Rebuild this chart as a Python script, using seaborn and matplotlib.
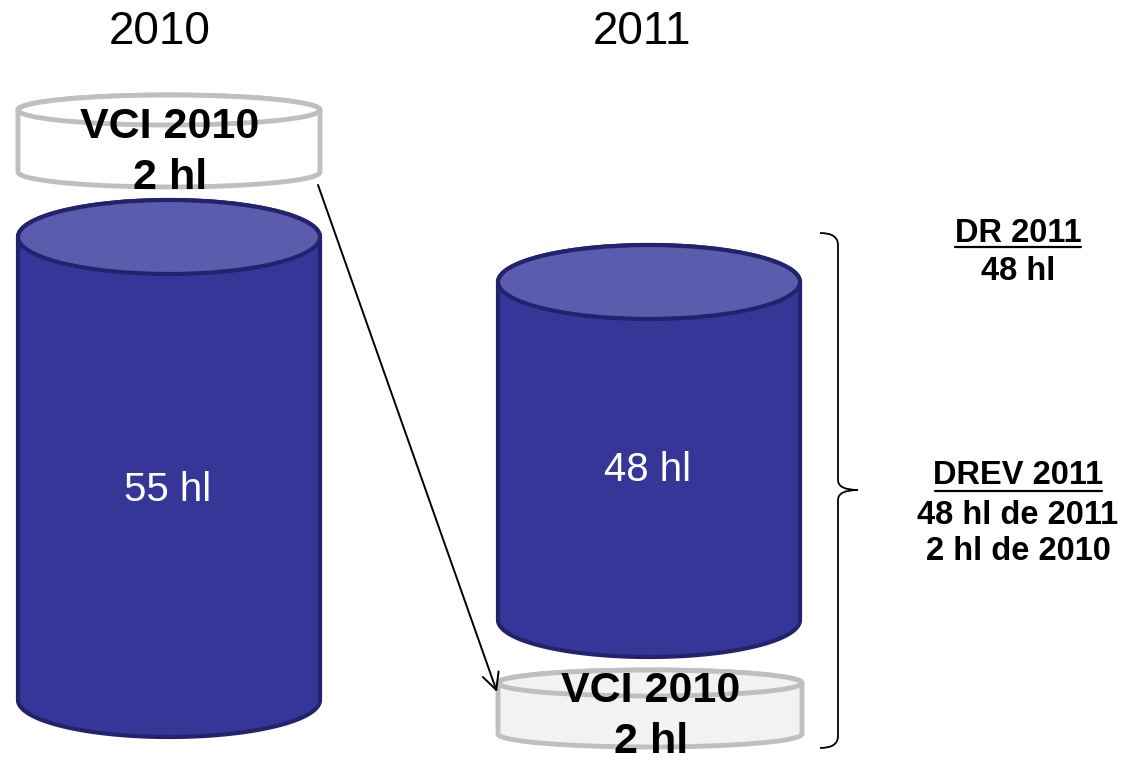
import numpy as np
import matplotlib.pyplot as plt
import seaborn as sns
from matplotlib.patches import Polygon, Ellipse, PathPatch
from matplotlib.path import Path

# values shown in the diagram
years = ["2010", "2011"]
harvest_hl = [55, 48]
vci_hl = 2
vci_year = "2010"
dr_title = "DR 2011"
dr_lines = ["48 hl"]
drev_title = "DREV 2011"
drev_lines = ["48 hl de 2011", "2 hl de 2010"]

sns.set_theme(style="white")
plt.rcParams['font.family'] = ['Liberation Sans', 'DejaVu Sans']
plt.rcParams['text.color'] = 'black'

fig = plt.figure(figsize=(11.21, 7.6), dpi=100)
ax = fig.add_axes([0, 0, 1, 1])
ax.set_xlim(0, 1121)
ax.set_ylim(760, 0)
ax.axis("off")

BODY = "#363698"
TOP = "#5c5cae"
EDGE = "#22226e"
GREY = "#bfbfbf"


def cylinder(x0, x1, ytop, ybot, b, body, top, edge, lw, z):
    cx = (x0 + x1) / 2
    a = (x1 - x0) / 2
    t = np.linspace(np.pi, 0, 80)
    lower = np.column_stack([cx + a * np.cos(t), ybot + b * np.sin(t)])
    t2 = np.linspace(0, -np.pi, 80)
    upper = np.column_stack([cx + a * np.cos(t2), ytop + b * np.sin(t2)])
    pts = np.vstack([[[x0, ytop]], lower, upper])
    ax.add_patch(Polygon(pts, closed=True, facecolor=body, edgecolor=edge,
                         lw=lw, joinstyle="round", zorder=z))
    ax.add_patch(Ellipse((cx, ytop), 2 * a, 2 * b, facecolor=top,
                         edgecolor=edge, lw=lw, zorder=z + 0.1))


# big cylinders
cylinder(18, 320, 237, 700, 37, BODY, TOP, EDGE, 3, 2)
cylinder(498, 800, 282, 620, 37, BODY, TOP, EDGE, 3, 2)

# VCI discs
cylinder(18, 320, 110, 172, 15, "white", "white", GREY, 3.5, 3)
cylinder(498, 802, 683, 734, 13, "#f2f2f2", "#f2f2f2", GREY, 3.5, 3)

# year headers
for x, yr in zip([160, 642], years):
    ax.text(x, 32, yr, ha="center", va="center", fontsize=33, color="black")

# volume labels
for x, y, v in zip([168, 648], [490, 470], harvest_hl):
    ax.text(x, y, f"{v} hl", ha="center", va="center", fontsize=29,
            color="white", zorder=5)

for x, y in [(170, 127), (651, 691)]:
    ax.text(x, y, f"VCI {vci_year}", ha="center", va="center", fontsize=31,
            fontweight="bold", color="black", zorder=6)
    ax.text(x, y + 51, f"{vci_hl} hl", ha="center", va="center", fontsize=31,
            fontweight="bold", color="black", zorder=6)

# transfer arrow
ax.annotate("", xy=(497, 692), xytext=(318, 185),
            arrowprops=dict(arrowstyle="->", lw=1.4, color="black",
                            mutation_scale=30, shrinkA=0, shrinkB=0),
            zorder=4)

# curly brace
verts = [(820, 233), (838, 233), (838, 245), (838, 480), (838, 490), (858, 490),
         (838, 490), (838, 500), (838, 736), (838, 748), (820, 748)]
codes = [Path.MOVETO, Path.CURVE3, Path.CURVE3, Path.LINETO, Path.CURVE3, Path.CURVE3,
         Path.CURVE3, Path.CURVE3, Path.LINETO, Path.CURVE3, Path.CURVE3]
ax.add_patch(PathPatch(Path(verts, codes), facecolor="none", edgecolor="black", lw=1.3))

# side annotations
fs = 23.5
ax.text(1018, 233, dr_title, ha="center", va="center", fontsize=fs, fontweight="bold")
ax.plot([955, 1081], [247, 247], color="black", lw=1.6)
for i, s in enumerate(dr_lines):
    ax.text(1018, 271 + 37 * i, s, ha="center", va="center", fontsize=fs, fontweight="bold")

ax.text(1018, 476, drev_title, ha="center", va="center", fontsize=fs, fontweight="bold")
ax.plot([935, 1102], [491, 491], color="black", lw=1.6)
for i, s in enumerate(drev_lines):
    ax.text(1018, 515 + 37 * i, s, ha="center", va="center", fontsize=fs, fontweight="bold")

plt.savefig("out.png", dpi=100)
